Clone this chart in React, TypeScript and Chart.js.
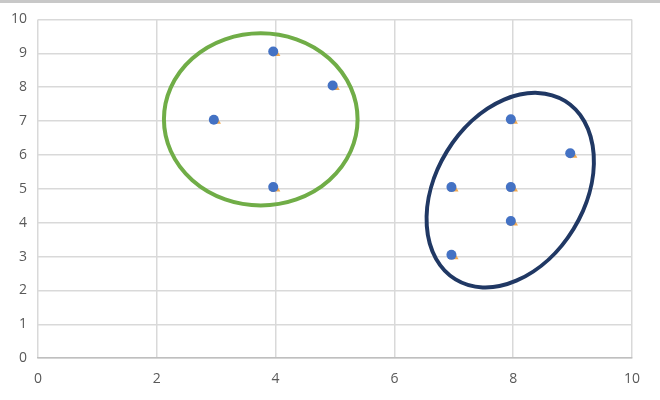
import React, { useEffect, useRef } from "react";
import { Chart, registerables } from "chart.js";

Chart.register(...registerables);

// Series values
const blueX = [2.96, 3.96, 4.96, 3.96, 6.96, 6.96, 7.96, 7.96, 7.96, 8.96];
const blueY = [7.04, 9.05, 8.05, 5.05, 5.05, 3.05, 7.05, 5.05, 4.05, 6.05];
const orangeX = [3.0, 4.0, 5.0, 4.0, 7.0, 7.0, 8.0, 8.0, 8.0, 9.0];
const orangeY = [7.0, 9.0, 8.0, 5.0, 5.0, 3.0, 7.0, 5.0, 4.0, 6.0];

// Axis ticks
const xTicks = [0, 2, 4, 6, 8, 10];
const yTicks = [0, 1, 2, 3, 4, 5, 6, 7, 8, 9, 10];

// Ellipse annotations (centre in data units, radii in axis units, rotation degrees)
const ellipseCx = [3.75, 7.95];
const ellipseCy = [7.05, 4.96];
const ellipseRx = [1.63, 1.25];
const ellipseRy = [2.54, 3.09];
const ellipseRot = [0, 31.5];
const ellipseColor = ["#70AD47", "#203864"];

const ellipsePlugin = {
  id: "ellipses",
  afterDatasetsDraw(chart: any) {
    const { ctx, scales } = chart;
    const x = scales.x;
    const y = scales.y;
    const ppx = Math.abs(x.getPixelForValue(1) - x.getPixelForValue(0));
    const ppy = Math.abs(y.getPixelForValue(1) - y.getPixelForValue(0));
    for (let i = 0; i < ellipseCx.length; i++) {
      ctx.save();
      ctx.beginPath();
      ctx.ellipse(
        x.getPixelForValue(ellipseCx[i]),
        y.getPixelForValue(ellipseCy[i]),
        ellipseRx[i] * ppx,
        ellipseRy[i] * ppy,
        (ellipseRot[i] * Math.PI) / 180,
        0,
        Math.PI * 2
      );
      ctx.lineWidth = 4;
      ctx.strokeStyle = ellipseColor[i];
      ctx.stroke();
      ctx.restore();
    }
  },
};

export default function App() {
  const ref = useRef<HTMLCanvasElement>(null);

  useEffect(() => {
    document.body.style.margin = "0";
    const canvas = ref.current!;
    const chart = new Chart(canvas, {
      type: "scatter",
      data: {
        datasets: [
          {
            label: "A",
            data: blueX.map((v, i) => ({ x: v, y: blueY[i] })),
            backgroundColor: "#4472C4",
            borderColor: "#4472C4",
            pointStyle: "circle",
            pointRadius: 5,
            borderWidth: 0,
          },
          {
            label: "B",
            data: orangeX.map((v, i) => ({ x: v, y: orangeY[i] })),
            backgroundColor: "#F0A850",
            borderColor: "#F0A850",
            pointStyle: "triangle",
            pointRadius: 5.5,
            borderWidth: 0,
          },
        ],
      },
      options: {
        animation: false,
        responsive: false,
        maintainAspectRatio: false,
        layout: { padding: { top: 14, right: 28, bottom: 1, left: 0 } },
        plugins: {
          legend: { display: false },
          tooltip: { enabled: false },
        },
        scales: {
          x: {
            type: "linear",
            min: 0,
            max: 10,
            afterBuildTicks: (axis: any) => {
              axis.ticks = xTicks.map((v) => ({ value: v }));
            },
            grid: { color: "#d9d9d9", lineWidth: 1.5, drawTicks: false },
            border: { color: "#bfbfbf", width: 1.5 },
            ticks: {
              color: "#595959",
              font: { family: "'Open Sans', sans-serif", size: 14 },
              padding: 12,
              maxRotation: 0,
            },
          },
          y: {
            type: "linear",
            min: 0,
            max: 10,
            afterBuildTicks: (axis: any) => {
              axis.ticks = yTicks.map((v) => ({ value: v }));
            },
            grid: { color: "#d9d9d9", lineWidth: 1.5, drawTicks: false },
            border: { display: false },
            ticks: {
              color: "#595959",
              font: { family: "'Open Sans', sans-serif", size: 14 },
              padding: 11,
            },
          },
        },
      },
      plugins: [ellipsePlugin],
    });
    return () => chart.destroy();
  }, []);

  return (
    <div style={{ width: 660, height: 400, position: "relative", background: "#fff" }}>
      <div
        style={{
          position: "absolute",
          left: 0,
          top: 0,
          width: 660,
          height: 3,
          background: "#c8c8c8",
        }}
      />
      <canvas ref={ref} width={660} height={400} style={{ display: "block" }} />
    </div>
  );
}
